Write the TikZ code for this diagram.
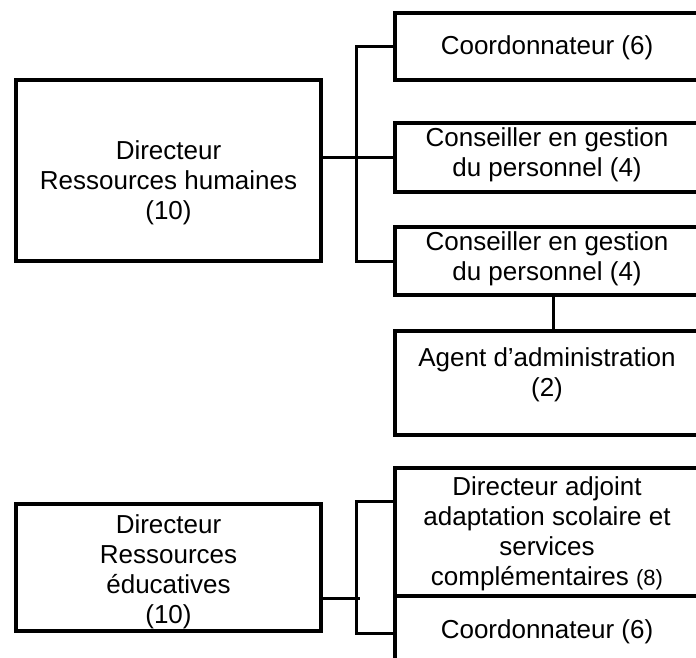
\documentclass[tikz,border=0pt]{standalone}
\usepackage{fontspec}
\setmainfont{Liberation Sans}
\usepackage{tikz}

\begin{document}
\begin{tikzpicture}[x=1pt,y=-1pt,
		cadre/.style={draw,line width=4pt,inner sep=0pt},
		lien/.style={line width=3pt},
		texte/.style={inner sep=0pt,align=center,font=\fontsize{26}{30}\selectfont}]
			\clip (0,0) rectangle (696,658);
			
			\node (rh)[cadre,minimum width=305pt,minimum height=181pt] at (168.5,170.5) {};
			\node (coord1)[cadre,minimum width=304pt,minimum height=67pt] at (547,46.5) {};
			\node (cons1)[cadre,minimum width=304pt,minimum height=69pt] at (547,157.5) {};
			\node (cons2)[cadre,minimum width=304pt,minimum height=68pt] at (547,261) {};
			\node (agent)[cadre,minimum width=304pt,minimum height=104pt] at (547,383) {};
			\node (re)[cadre,minimum width=305pt,minimum height=127.5pt] at (168.5,567.25) {};
			\node (adj)[cadre,minimum width=304pt,minimum height=128pt] at (547,532) {};
			\node (coord2)[cadre,minimum width=304pt,minimum height=74pt] at (547,633) {};
			
			\node (rh-t)[texte] at (168.5,182.7) {Directeur\\Ressources humaines\\(10)};
			\node (coord1-t)[texte] at (547,48.2) {Coordonnateur (6)};
			\node (cons1-t)[texte] at (547,155) {Conseiller en gestion\\du personnel (4)};
			\node (cons2-t)[texte] at (547,259) {Conseiller en gestion\\du personnel (4)};
			\node (agent-t)[texte] at (547,375) {Agent d’administration\\(2)};
			\node (re-t)[texte] at (168.5,571.5) {Directeur\\Ressources\\éducatives\\(10)};
			\node (adj-t)[texte] at (547,534) {Directeur adjoint\\adaptation scolaire et\\services\\complémentaires {\fontsize{22}{30}\selectfont(8)}};
			\node (coord2-t)[texte] at (547,632) {Coordonnateur (6)};
			
			\draw[lien] (coord1.west) -- ++(-37,0) |- (cons2.west);
			\draw[line width=2.5pt] (rh.east |- cons1.west) -- (cons1.west);
			\draw[lien] ([xshift=6pt]cons2.south) -- ([xshift=6pt]agent.north);
			
			\draw[lien] (adj.west |- re.north) -- ++(-37,0) |- (adj.west |- re.south);
			\draw[lien] (re.east |- adj.south) -- ++(37,0);
		\end{tikzpicture}
\end{document}
